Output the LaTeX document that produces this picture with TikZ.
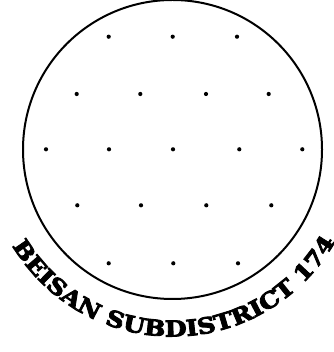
\documentclass[tikz,border=0pt]{standalone}
\usepackage{fontspec}
\newfontfamily\rimfont{DejaVu Serif Bold}[FakeBold=4, FakeStretch=1.15]
\usetikzlibrary{calc,decorations.text}

\tikzset{
  rim/.style={draw, line width=2pt},
  site/.style={fill, circle, inner sep=0pt, minimum size=4.2pt},
}

\begin{document}
\begin{tikzpicture}[x=1pt, y=1pt]
  \useasboundingbox (0,0) rectangle (333,352);
  % Outline of the subdistrict
  \coordinate (centre) at (172.5,202.5);
  \draw[rim] (centre) circle[radius=149.5];

  % Sites
  \foreach \px/\py [count=\i] in {108.7/315.3, 172.7/315.3, 237/315.3,
      76.7/258, 140.3/258, 206/258, 268.7/258,
      46/202.7, 109/202.7, 173/202.7, 239.3/202.7, 302.3/202.7,
      77.3/146.7, 141/146.7, 206.3/146.7, 271.3/146.7,
      108.7/88.7, 173.3/88.7, 238/88.7}
    \node[site] (s\i) at (\px,\py) {};

  % Caption round the rim
  \path[decorate, decoration={text along path, text align={fit to path},
      text format delimiters={|}{|},
      text={|\rimfont\fontsize{22}{22}\selectfont|BEISAN SUBDISTRICT 174}}]
    ($(centre)+(211:187)$) arc[start angle=211, end angle=330.5, radius=187];
\end{tikzpicture}
\end{document}
